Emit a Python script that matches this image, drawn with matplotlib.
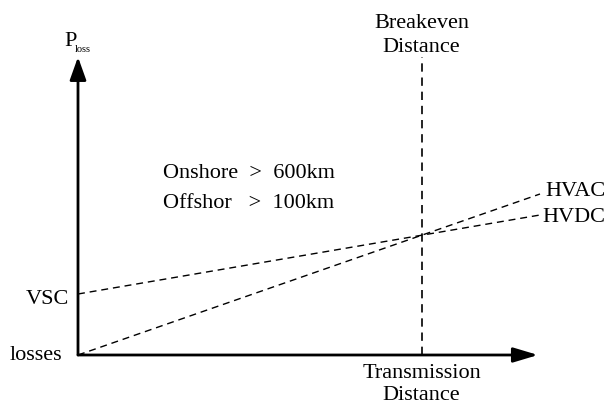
import numpy as np
import matplotlib
matplotlib.use('Agg')
import matplotlib.pyplot as plt

# schematic data (distance in relative units, losses in relative units)
distance = [0.0, 1.0]
hvac_loss = [0.0, 161.0]
hvdc_loss = [61.0, 140.0]

# breakeven where the two loss lines cross
a_ac = (hvac_loss[1] - hvac_loss[0]) / (distance[1] - distance[0])
a_dc = (hvdc_loss[1] - hvdc_loss[0]) / (distance[1] - distance[0])
breakeven = (hvdc_loss[0] - hvac_loss[0]) / (a_ac - a_dc)

plt.rcParams['font.family'] = ['Liberation Serif', 'DejaVu Serif']

px = 462.0  # pixels per distance unit
fig = plt.figure(figsize=(6.07, 4.05), dpi=100)
ax = fig.add_axes([0, 0, 1, 1])
ax.set_xlim(-78 / px, (607 - 78) / px)
ax.set_ylim(-50, 355)
ax.axis('off')

# axes with arrow heads
ax.annotate('', xy=(460 / px, 0), xytext=(0, 0),
            arrowprops=dict(arrowstyle='-|>,head_length=1.5,head_width=0.45',
                            lw=2, color='black', shrinkA=0, shrinkB=0))
ax.annotate('', xy=(0, 298), xytext=(0, 0),
            arrowprops=dict(arrowstyle='-|>,head_length=1.4,head_width=0.5',
                            lw=2, color='black', shrinkA=0, shrinkB=0))

dash = (0, (5, 3.5))
ax.plot(distance, hvac_loss, color='black', lw=1, linestyle=dash)
ax.plot(distance, hvdc_loss, color='black', lw=1, linestyle=dash)
ax.plot([breakeven, breakeven], [0, 298], color='black', lw=1.2, linestyle=dash)

fs = 16
ax.text(breakeven, 332, 'Breakeven', ha='center', va='center', fontsize=fs)
ax.text(breakeven, 308, 'Distance', ha='center', va='center', fontsize=fs)
ax.text(breakeven, -19, 'Transmission', ha='center', va='center', fontsize=fs)
ax.text(breakeven, -41, 'Distance', ha='center', va='center', fontsize=fs)
ax.text(1 + 5 / px, hvac_loss[1] + 2, 'HVAC', ha='left', va='center', fontsize=fs)
ax.text(1 + 2 / px, hvdc_loss[1] - 3, 'HVDC', ha='left', va='center', fontsize=fs)
ax.text(-9 / px, hvdc_loss[0] - 5, 'VSC', ha='right', va='center', fontsize=fs)
ax.text(-16 / px, 0, 'losses', ha='right', va='center', fontsize=fs)
ax.text(85 / px, 182, 'Onshore  >  600km', ha='left', va='center', fontsize=fs)
ax.text(85 / px, 152, 'Offshor   >  100km', ha='left', va='center', fontsize=fs)
ax.text(-14 / px, 314, 'P', ha='left', va='center', fontsize=fs)
ax.text(-3 / px, 305, 'loss', ha='left', va='center', fontsize=7.5)

fig.savefig('out.png', dpi=100)
